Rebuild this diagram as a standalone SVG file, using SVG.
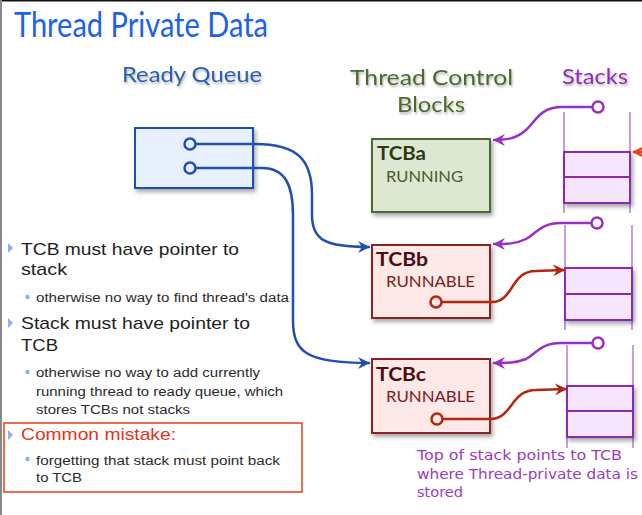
<svg xmlns="http://www.w3.org/2000/svg" width="642" height="515" viewBox="0 0 642 515">
  <style>
    .head { font-family: Lato, "Open Sans", "Liberation Sans", sans-serif; }
    .body { font-family: "Liberation Sans", Arial, sans-serif; fill: #1e1e1e; }
    .sub { font-family: "Liberation Sans", Arial, sans-serif; fill: #2a2a2a; font-size: 12.5px; }
    .note { font-family: "DejaVu Sans", "Liberation Sans", sans-serif; fill: #9a3cc0; font-size: 14px; }
    .blue { fill: none; stroke: #1f4fb0; stroke-width: 2.5; stroke-linecap: round; }
    .red { fill: none; stroke: #b3260f; stroke-width: 2.5; stroke-linecap: round; }
    .purple { fill: none; stroke: #9a2fc4; stroke-width: 2.5; stroke-linecap: round; }
    .stackcell { fill: #f6e6fd; stroke: #8a2cb0; stroke-width: 2; }
    .rail { stroke: #a45cc8; stroke-width: 1.2; }
    .bullet { fill: #8ab2e6; }
  </style>
  <defs>
    <filter id="boxShadow" x="-10%" y="-10%" width="130%" height="140%">
      <feDropShadow dx="2" dy="3" stdDeviation="2" flood-color="#000" flood-opacity="0.35"/>
    </filter>
    <filter id="textShadow" x="-5%" y="-20%" width="115%" height="160%">
      <feDropShadow dx="1" dy="2" stdDeviation="1.2" flood-color="#000" flood-opacity="0.3"/>
    </filter>
    <marker id="arrowBlue" viewBox="0 0 12 12" refX="11" refY="6" markerWidth="12" markerHeight="12" markerUnits="userSpaceOnUse" orient="auto">
      <path d="M0,0 L12,6 L0,12 L4,6 z" fill="#1f4fb0"/>
    </marker>
    <marker id="arrowRed" viewBox="0 0 12 12" refX="11" refY="6" markerWidth="12" markerHeight="12" markerUnits="userSpaceOnUse" orient="auto">
      <path d="M0,0 L12,6 L0,12 L4,6 z" fill="#b3260f"/>
    </marker>
    <marker id="arrowOrange" viewBox="0 0 12 12" refX="11" refY="6" markerWidth="12" markerHeight="12" markerUnits="userSpaceOnUse" orient="auto">
      <path d="M0,0 L12,6 L0,12 L4,6 z" fill="#e8401a"/>
    </marker>
    <marker id="arrowPurple" viewBox="0 0 12 12" refX="11" refY="6" markerWidth="12" markerHeight="12" markerUnits="userSpaceOnUse" orient="auto">
      <path d="M0,0 L12,6 L0,12 L4,6 z" fill="#9a2fc4"/>
    </marker>
  </defs>

  <!-- page -->
  <rect x="0" y="0" width="642" height="515" fill="#ffffff"/>
  <line x1="0" y1="0.75" x2="642" y2="0.75" stroke="#111" stroke-width="1.5"/>
  <line x1="1" y1="0" x2="1" y2="515" stroke="#888" stroke-width="2"/>

  <!-- title and column headings -->
  <text x="14" y="37" class="head" font-size="34" fill="#1a62ea" textLength="254" lengthAdjust="spacingAndGlyphs">Thread Private Data</text>
  <g filter="url(#textShadow)">
    <text x="122" y="82" class="head" font-size="22" fill="#2a5fae" textLength="140" lengthAdjust="spacingAndGlyphs">Ready Queue</text>
    <text x="350" y="85" class="head" font-size="22" fill="#4c6a2c" textLength="163" lengthAdjust="spacingAndGlyphs">Thread Control</text>
    <text x="397" y="112" class="head" font-size="22" fill="#4c6a2c" textLength="68" lengthAdjust="spacingAndGlyphs">Blocks</text>
    <text x="562" y="84" class="head" font-size="22" fill="#8e2cb8" textLength="66" lengthAdjust="spacingAndGlyphs">Stacks</text>
  </g>

  <!-- ready queue -->
  <g id="ready-queue">
    <rect x="135" y="128" width="118" height="60" fill="#e8f0fd" stroke="#1f4fb0" stroke-width="2" filter="url(#boxShadow)"/>
  </g>

  <!-- thread control blocks -->
  <g id="tcb-a">
    <rect x="372" y="139" width="118" height="73" fill="#dde8d2" stroke="#4a6a30" stroke-width="2" filter="url(#boxShadow)"/>
    <text x="377" y="160" class="head" font-size="19" font-weight="bold" fill="#2c3a14" textLength="49" lengthAdjust="spacingAndGlyphs">TCBa</text>
    <text x="386" y="182" class="head" font-size="16" fill="#4c5a2c" textLength="77" lengthAdjust="spacingAndGlyphs">RUNNING</text>
  </g>
  <g id="tcb-b">
    <rect x="372" y="245" width="118" height="73" fill="#fde8e8" stroke="#8a2020" stroke-width="2" filter="url(#boxShadow)"/>
    <text x="376" y="266" class="head" font-size="19" font-weight="bold" fill="#4a0e0e" textLength="52" lengthAdjust="spacingAndGlyphs">TCBb</text>
    <text x="386" y="287" class="head" font-size="16" fill="#7a2020" textLength="89" lengthAdjust="spacingAndGlyphs">RUNNABLE</text>
  </g>
  <g id="tcb-c">
    <rect x="372" y="359" width="118" height="74" fill="#fde8e8" stroke="#8a2020" stroke-width="2" filter="url(#boxShadow)"/>
    <text x="376" y="381" class="head" font-size="19" font-weight="bold" fill="#4a0e0e" textLength="50" lengthAdjust="spacingAndGlyphs">TCBc</text>
    <text x="386" y="402" class="head" font-size="16" fill="#7a2020" textLength="89" lengthAdjust="spacingAndGlyphs">RUNNABLE</text>
  </g>

  <!-- stacks -->
  <g id="stack-1">
    <line x1="564" y1="112" x2="564" y2="213" class="rail"/>
    <line x1="630" y1="112" x2="630" y2="213" class="rail"/>
    <g filter="url(#boxShadow)">
      <rect x="564" y="152" width="66" height="25" class="stackcell"/>
      <rect x="564" y="177" width="66" height="26" class="stackcell"/>
    </g>
  </g>
  <g id="stack-2">
    <line x1="565" y1="225" x2="565" y2="330" class="rail"/>
    <line x1="632" y1="225" x2="632" y2="330" class="rail"/>
    <g filter="url(#boxShadow)">
      <rect x="565" y="268" width="67" height="26" class="stackcell"/>
      <rect x="565" y="294" width="67" height="26" class="stackcell"/>
    </g>
  </g>
  <g id="stack-3">
    <line x1="567" y1="345" x2="567" y2="448" class="rail"/>
    <line x1="633" y1="345" x2="633" y2="448" class="rail"/>
    <g filter="url(#boxShadow)">
      <rect x="567" y="386" width="66" height="25" class="stackcell"/>
      <rect x="567" y="411" width="66" height="26" class="stackcell"/>
    </g>
  </g>

  <!-- connectors -->
  <g id="connectors">
    <!-- ready queue to TCBs -->
    <path class="blue" d="M196,144 L255,144 C298,144 312,160 312,195 L312,215 C312,240 325,247 369,247" marker-end="url(#arrowBlue)"/>
    <path class="blue" d="M196,168 L262,168 C285,168 293,185 293,215 L293,320 C293,352 306,363 369,363" marker-end="url(#arrowBlue)"/>
    <circle cx="190" cy="144" r="5.5" fill="#e8f0fd" stroke="#1f4fb0" stroke-width="2.5"/>
    <circle cx="190" cy="168" r="5.5" fill="#e8f0fd" stroke="#1f4fb0" stroke-width="2.5"/>

    <!-- TCB to stack -->
    <path class="red" d="M442,302 L492,302 C514,302 510,271 536,271 L564,270" marker-end="url(#arrowRed)"/>
    <path class="red" d="M443,419 L490,419 C513,419 510,390 536,390 L566,389" marker-end="url(#arrowRed)"/>
    <circle cx="436" cy="302" r="5.5" fill="#fde8e8" stroke="#b3260f" stroke-width="2.5"/>
    <circle cx="437" cy="419" r="5.5" fill="#fde8e8" stroke="#b3260f" stroke-width="2.5"/>
    <path d="M660,152 L633,152" fill="none" stroke="#e8401a" stroke-width="2.5" marker-end="url(#arrowOrange)"/>

    <!-- stack top back to TCB -->
    <path class="purple" d="M592,107 L562,107 C540,107 536,121 526,130 C516,139 506,140 494,140" marker-end="url(#arrowPurple)"/>
    <path class="purple" d="M591,223 L561,223 C540,223 536,234 526,239 C516,244 506,244 494,244" marker-end="url(#arrowPurple)"/>
    <path class="purple" d="M592,343 L561,343 C540,343 536,354 526,359 C516,363 506,363 494,363" marker-end="url(#arrowPurple)"/>
    <circle cx="598" cy="107" r="5.5" fill="#ffffff" stroke="#9a2fc4" stroke-width="2.5"/>
    <circle cx="597" cy="223" r="5.5" fill="#ffffff" stroke="#9a2fc4" stroke-width="2.5"/>
    <circle cx="598" cy="343" r="5.5" fill="#ffffff" stroke="#9a2fc4" stroke-width="2.5"/>
  </g>

  <!-- stack annotation -->
  <g id="stack-note">
    <text x="417" y="460" class="note" textLength="205" lengthAdjust="spacingAndGlyphs">Top of stack points to TCB</text>
    <text x="417" y="479" class="note" textLength="221" lengthAdjust="spacingAndGlyphs">where Thread-private data is</text>
    <text x="417" y="497" class="note" textLength="46" lengthAdjust="spacingAndGlyphs">stored</text>
  </g>

  <!-- bullet list -->
  <g id="bullets">
    <path class="bullet" d="M8,243 L13,248 L8,253 z"/>
    <text x="21" y="255" class="body" font-size="17" textLength="218" lengthAdjust="spacingAndGlyphs">TCB must have pointer to</text>
    <text x="21" y="275" class="body" font-size="17" textLength="46" lengthAdjust="spacingAndGlyphs">stack</text>
    <circle class="bullet" cx="27.5" cy="297" r="2.2"/>
    <text x="36" y="302" class="sub" textLength="253" lengthAdjust="spacingAndGlyphs">otherwise no way to find thread's data</text>

    <path class="bullet" d="M8,318 L13,323 L8,328 z"/>
    <text x="21" y="329" class="body" font-size="17" textLength="229" lengthAdjust="spacingAndGlyphs">Stack must have pointer to</text>
    <text x="21" y="351" class="body" font-size="17" textLength="37" lengthAdjust="spacingAndGlyphs">TCB</text>
    <circle class="bullet" cx="27.5" cy="372" r="2.2"/>
    <text x="36" y="377" class="sub" textLength="224" lengthAdjust="spacingAndGlyphs">otherwise no way to add currently</text>
    <text x="36" y="396" class="sub" textLength="247" lengthAdjust="spacingAndGlyphs">running thread to ready queue, which</text>
    <text x="36" y="414" class="sub" textLength="154" lengthAdjust="spacingAndGlyphs">stores TCBs not stacks</text>

    <rect x="4" y="423" width="298" height="69" fill="none" stroke="#e8401a" stroke-width="1.5"/>
    <path class="bullet" d="M8,430 L13,435 L8,440 z"/>
    <text x="21" y="440" class="body" font-size="17" fill="#e8301a" style="fill:#e8301a" textLength="155" lengthAdjust="spacingAndGlyphs">Common mistake:</text>
    <circle class="bullet" cx="27.5" cy="459" r="2.2"/>
    <text x="36" y="465" class="sub" textLength="244" lengthAdjust="spacingAndGlyphs">forgetting that stack must point back</text>
    <text x="36" y="482" class="sub" textLength="46" lengthAdjust="spacingAndGlyphs">to TCB</text>
  </g>
</svg>
